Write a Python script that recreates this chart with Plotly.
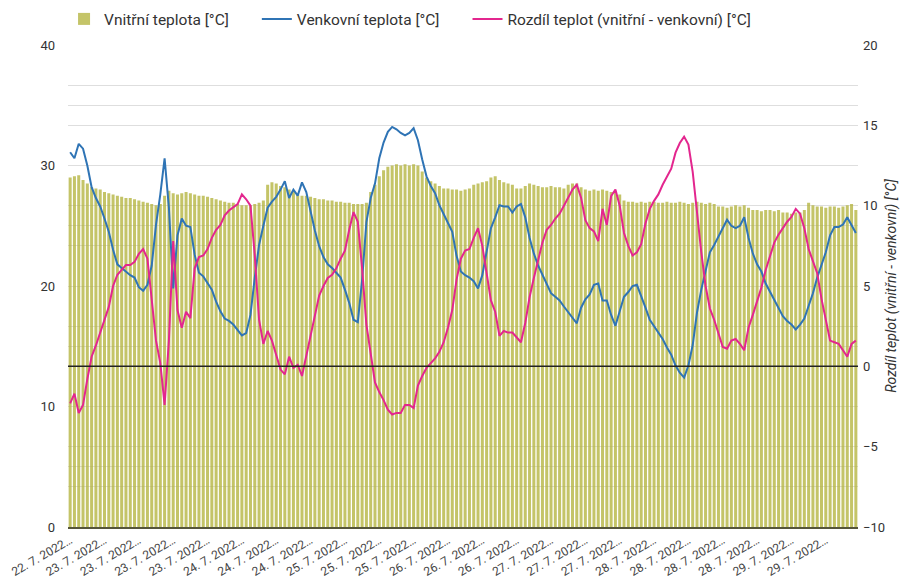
import plotly.graph_objects as go

# Vnitřní teplota [°C] (bars, left axis)
indoor = [
    29.0, 29.1, 29.2, 28.8, 28.5, 28.2, 28.1, 28.0, 27.8, 27.7,
    27.6, 27.5, 27.4, 27.3, 27.3, 27.2, 27.1, 27.0, 26.9, 26.8,
    26.7, 26.8, 27.5, 27.9, 27.7, 27.6, 27.7, 27.8, 27.7, 27.6,
    27.5, 27.5, 27.4, 27.3, 27.2, 27.1, 27.0, 26.9, 26.9, 26.8,
    26.7, 26.7, 26.7, 26.8, 26.9, 27.1, 28.4, 28.6, 28.5, 28.3,
    28.2, 28.0, 27.9, 27.6, 27.5, 27.5, 27.4, 27.3, 27.2, 27.2,
    27.1, 27.1, 27.0, 27.0, 26.9, 26.9, 26.8, 26.8, 26.8, 26.9,
    27.8, 28.4, 29.1, 29.6, 29.9, 30.0, 30.1, 30.0, 30.1, 30.0,
    30.1, 30.0, 29.5, 29.0, 28.7, 28.5, 28.3, 28.1, 28.1, 28.0,
    28.0, 27.9, 28.0, 28.1, 28.4, 28.5, 28.6, 28.7, 29.0, 29.1,
    28.8, 28.6, 28.5, 28.4, 28.1, 28.1, 28.3, 28.5, 28.4, 28.3,
    28.2, 28.2, 28.3, 28.2, 28.2, 28.1, 28.4, 28.5, 28.5, 28.2,
    28.0, 27.9, 28.0, 27.9, 28.0, 27.9, 27.8, 27.8, 27.6, 27.1,
    27.0, 27.0, 26.9, 27.0, 26.9, 27.0, 27.0, 26.9, 26.9, 27.0,
    26.9, 26.9, 27.0, 26.9, 26.8, 26.9, 27.0, 26.9, 26.8, 26.9,
    26.8, 26.6, 26.6, 26.5, 26.6, 26.7, 26.6, 26.7, 26.5, 26.3,
    26.3, 26.2, 26.3, 26.3, 26.2, 26.3, 26.1, 26.1, 26.0, 26.1,
    26.1, 26.3, 26.9, 26.7, 26.6, 26.6, 26.5, 26.6, 26.6, 26.5,
    26.6, 26.7, 26.8, 26.3,
]

# Venkovní teplota [°C] (blue line, left axis)
outdoor = [
    31.1, 30.6, 31.8, 31.4, 30.0, 28.2, 27.3, 26.6, 25.6, 24.5,
    23.0, 21.8, 21.5, 21.2, 20.9, 20.7, 19.9, 19.6, 20.1, 21.7,
    25.1, 27.6, 30.6, 26.5, 19.8, 24.2, 25.6, 25.0, 24.9, 22.6,
    21.1, 20.8, 20.3, 19.7, 18.7, 17.9, 17.3, 17.1, 16.8, 16.3,
    15.9, 16.1, 17.6, 20.7, 23.4, 25.0, 26.5, 27.0, 27.4, 28.0,
    28.7, 27.3, 28.0, 27.5, 28.6, 27.8, 26.1, 24.6, 23.3, 22.4,
    21.8, 21.5, 21.1, 20.7, 19.7, 18.6, 17.2, 17.0, 20.5, 25.3,
    27.3, 28.5, 30.6, 31.9, 32.8, 33.2, 33.0, 32.7, 32.5, 32.7,
    33.1, 32.1, 30.5, 29.1, 28.3, 27.7, 26.7, 26.0, 25.3, 24.5,
    22.5, 21.2, 20.9, 20.7, 20.4, 19.8, 20.9, 23.0, 24.8, 25.7,
    26.7, 26.6, 26.6, 26.1, 26.6, 26.8, 25.7, 24.0, 22.7, 21.7,
    20.9, 20.2, 19.4, 19.1, 18.8, 18.3, 17.8, 17.3, 16.9, 18.2,
    18.9, 19.3, 20.1, 20.2, 18.8, 18.8, 17.6, 16.7, 18.0, 19.1,
    19.5, 20.0, 20.1, 19.2, 18.2, 17.2, 16.7, 16.1, 15.6, 14.9,
    14.3, 13.4, 12.8, 12.4, 13.4, 15.1, 17.8, 19.7, 21.3, 22.8,
    23.4, 24.1, 24.8, 25.5, 25.0, 24.8, 25.0, 25.7, 24.0, 22.7,
    21.8, 21.2, 20.2, 19.5, 18.8, 18.1, 17.5, 17.1, 16.8, 16.4,
    16.8, 17.3, 18.3, 19.4, 20.7, 21.8, 22.8, 24.2, 24.9, 24.9,
    25.1, 25.7, 25.0, 24.4,
]

# Rozdíl teplot (vnitřní - venkovní) [°C] (pink line, right axis)
difference = [
    -2.3, -1.7, -2.9, -2.4, -0.8, 0.6, 1.3, 2.1, 3.0, 3.7,
    5.0, 5.7, 6.0, 6.3, 6.3, 6.5, 7.0, 7.3, 6.7, 4.2,
    1.6, 0.2, -2.4, 1.6, 7.8, 3.5, 2.4, 3.4, 3.0, 6.1,
    6.8, 6.9, 7.3, 8.0, 8.5, 8.8, 9.4, 9.7, 9.9, 10.1,
    10.7, 10.4, 10.0, 6.9, 2.9, 1.4, 2.2, 1.6, 0.7, -0.2,
    -0.5, 0.6, -0.1, 0.1, -0.6, 0.6, 1.9, 3.2, 4.4, 5.0,
    5.5, 5.7, 6.1, 6.7, 7.2, 8.5, 9.6, 9.0, 6.1, 2.6,
    0.7, -1.0, -1.6, -2.1, -2.7, -3.0, -2.9, -2.9, -2.4, -2.4,
    -2.6, -1.2, -0.6, -0.1, 0.2, 0.5, 0.9, 1.5, 2.4, 3.5,
    5.4, 6.7, 7.2, 7.3, 8.0, 8.6, 7.5, 5.8, 4.1, 3.4,
    1.9, 2.2, 2.1, 2.1, 1.8, 1.5, 2.7, 4.3, 5.5, 6.7,
    7.7, 8.5, 8.8, 9.2, 9.5, 10.0, 10.5, 11.0, 11.3, 10.5,
    9.1, 8.6, 8.4, 7.8, 9.8, 8.8, 10.6, 11.0, 10.0, 8.3,
    7.5, 6.9, 7.1, 7.6, 8.9, 9.8, 10.3, 10.7, 11.3, 11.8,
    12.3, 13.3, 13.9, 14.3, 13.8, 12.1, 9.4, 7.1, 5.0, 3.6,
    2.9, 2.0, 1.2, 1.1, 1.6, 1.7, 1.4, 1.0, 2.4, 3.2,
    4.1, 4.9, 6.0, 6.8, 7.7, 8.2, 8.6, 9.0, 9.3, 9.8,
    9.5, 8.6, 7.3, 6.5, 5.8, 4.2, 2.9, 1.6, 1.5, 1.4,
    1.0, 0.6, 1.4, 1.6,
]

# x tick labels (every 8th measurement)
tick_labels = [
    "22. 7. 2022…",
    "23. 7. 2022…", "23. 7. 2022…", "23. 7. 2022…", "23. 7. 2022…",
    "24. 7. 2022…", "24. 7. 2022…", "24. 7. 2022…",
    "25. 7. 2022…", "25. 7. 2022…", "25. 7. 2022…",
    "26. 7. 2022…", "26. 7. 2022…", "26. 7. 2022…",
    "27. 7. 2022…", "27. 7. 2022…", "27. 7. 2022…",
    "28. 7. 2022…", "28. 7. 2022…", "28. 7. 2022…", "28. 7. 2022…",
    "29. 7. 2022…", "29. 7. 2022…",
]
tick_step = 8

x = list(range(len(indoor)))
tickvals = [i * tick_step for i in range(len(tick_labels))]

FONT = "Roboto, Arial, sans-serif"
GRID = "#dedede"
PAD = "\u00a0" * 6  # legend spacing

fig = go.Figure()
fig.add_trace(go.Bar(
    x=x, y=indoor, name="Vnitřní teplota [°C]" + PAD,
    marker=dict(color="#b4b43e", line=dict(width=0)),
    opacity=0.78,
    yaxis="y",
))
fig.add_trace(go.Scatter(
    x=x, y=outdoor, name="Venkovní teplota [°C]" + PAD, mode="lines",
    line=dict(color="#2f74b5", width=2),
    yaxis="y",
))
fig.add_trace(go.Scatter(
    x=x, y=difference, name="Rozdíl teplot (vnitřní - venkovní) [°C]", mode="lines",
    line=dict(color="#e3268e", width=2),
    yaxis="y2",
))

# zero reference line of the right axis, drawn above the bars
fig.add_shape(type="line", xref="paper", x0=0, x1=1, yref="y2", y0=0, y1=0,
              line=dict(color="#222222", width=1.5), layer="above")

fig.update_layout(
    width=900, height=584,
    margin=dict(l=68, r=42, t=45, b=57, autoexpand=False),
    paper_bgcolor="white", plot_bgcolor="white",
    font=dict(family=FONT, size=13, color="#333333"),
    bargap=0.3,
    showlegend=True,
    legend=dict(
        orientation="h", x=-0.005, xanchor="left", y=1.018, yanchor="bottom",
        font=dict(size=15.5, color="#333333"),
        traceorder="normal",
        itemwidth=30,
    ),
    xaxis=dict(
        range=[-0.5, len(indoor) - 0.5],
        tickmode="array", tickvals=tickvals, ticktext=tick_labels,
        tickangle=-30, tickfont=dict(size=12, color="#444444"),
        showgrid=False, zeroline=False,
        showline=True, linecolor="#55553a", linewidth=2,
        ticks="", automargin=False,
    ),
    yaxis=dict(
        range=[0, 40], tickmode="array", tickvals=[0, 10, 20, 30, 40],
        showgrid=True, gridcolor=GRID, gridwidth=1,
        minor=dict(dtick=5, tick0=0, showgrid=True, gridcolor=GRID, gridwidth=1),
        zeroline=False, ticks="", tickfont=dict(size=13, color="#333333"),
        ticklabelstandoff=12, automargin=False,
    ),
    yaxis2=dict(
        range=[-10, 20], overlaying="y", side="right",
        tickmode="linear", tick0=-10, dtick=5,
        showgrid=True, gridcolor=GRID, gridwidth=1,
        minor=dict(dtick=2.5, tick0=0, showgrid=True, gridcolor=GRID, gridwidth=1),
        zeroline=False,
        ticks="", tickfont=dict(size=13, color="#333333"),
        ticklabelstandoff=4, automargin=False,
        title=dict(text="<i>Rozdíl teplot (vnitřní - venkovní) [°C]</i>",
                   font=dict(size=14, color="#333333"), standoff=3),
    ),
)

fig.write_html("out.html", config={"displayModeBar": False},
               post_script="document.body.style.margin='0px';")
